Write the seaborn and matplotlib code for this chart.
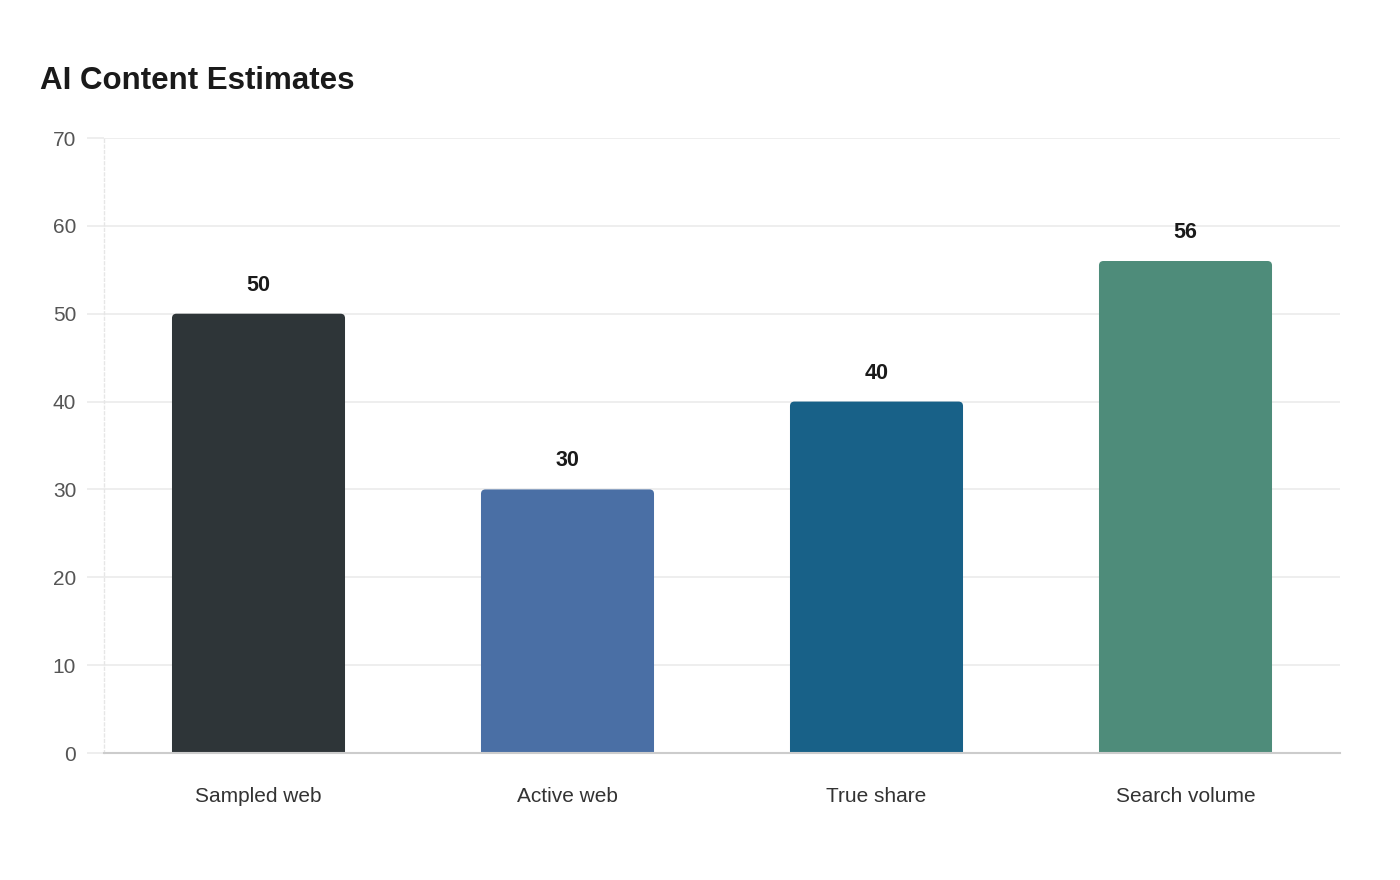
import matplotlib
matplotlib.use("Agg")
import matplotlib.pyplot as plt
from matplotlib.patches import FancyBboxPatch
import seaborn as sns
import pandas as pd

categories = ["Sampled web", "Active web", "True share", "Search volume"]
values = [50, 30, 40, 56]
colors = ["#2e3538", "#4a6fa5", "#186188", "#4e8c7a"]
yticks = [0, 10, 20, 30, 40, 50, 60, 70]

sns.set_theme(style="white")
plt.rcParams['font.family'] = ['Liberation Sans', 'DejaVu Sans']

df = pd.DataFrame({"category": categories, "value": values})

fig = plt.figure(figsize=(14, 8.8), dpi=100)
ax = fig.add_axes([104/1400, 1-753/880, (1340-104)/1400, (753-138)/880])

sns.barplot(data=df, x="category", y="value", hue="category", palette=colors,
            width=0.56, legend=False, ax=ax, saturation=1)

ax.set_xlim(-0.5, 3.5)
ax.set_ylim(0, 70)
ax.set_yticks(yticks)
ax.set_yticklabels([str(t) for t in yticks])
ax.set_xlabel("")
ax.set_ylabel("")
ax.set_axisbelow(True)
ax.yaxis.grid(True, color="#ebebeb", linewidth=1.2)
ax.xaxis.grid(False)

# rounded top corners
px_per_x = (1340-104) / 4.0
px_per_y = (753-138) / 70.0
radius_px = 4.5
rx = radius_px / px_per_x
ry = radius_px / px_per_y
for p in list(ax.patches):
    x, w, h = p.get_x(), p.get_width(), p.get_height()
    fc = p.get_facecolor()
    p.set_visible(False)
    fb = FancyBboxPatch((x, -2), w, h + 2,
                        boxstyle=f"round,pad=0,rounding_size={rx}",
                        mutation_aspect=ry / rx, fc=fc, ec="none", zorder=2)
    ax.add_patch(fb)

for s in ["top", "right"]:
    ax.spines[s].set_visible(False)
ax.spines["left"].set_color("#e6e6e6")
ax.spines["left"].set_linestyle((0, (2, 2)))
ax.spines["left"].set_linewidth(1)
ax.spines["bottom"].set_color("#cccccc")
ax.spines["bottom"].set_linewidth(1.5)
ax.spines["bottom"].set_zorder(5)

ax.tick_params(axis="y", length=12, width=1.2, color="#ebebeb", labelsize=15,
               labelcolor="#555555", pad=8, left=True)
ax.tick_params(axis="x", length=0, labelsize=15, labelcolor="#333333", pad=24.5)

for i, v in enumerate(values):
    ax.annotate(str(v), xy=(i, v), xytext=(0, 20.5), textcoords="offset points",
                ha="center", va="center", fontsize=15.5, fontweight="bold",
                color="#1a1a1a")

fig.text(40/1400, 1-81/880, "AI Content Estimates", fontsize=22.5, fontweight="bold",
         color="#1a1a1a", ha="left", va="center")

fig.savefig("out.png", dpi=100, facecolor="white")
